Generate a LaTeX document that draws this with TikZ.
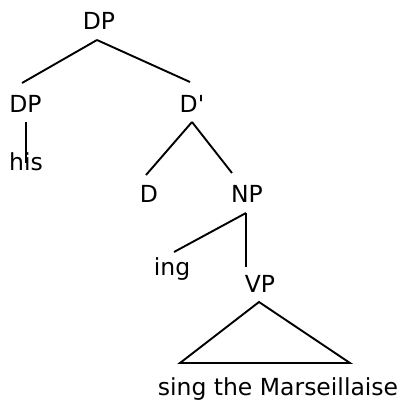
\documentclass[tikz,border=0pt]{standalone}
\usepackage{fontspec}
\setmainfont{DejaVu Sans}
\begin{document}
\begin{tikzpicture}[x=1pt,y=-1pt,
  lbl/.style={inner sep=0pt,anchor=base,font=\fontsize{23.5}{28}\selectfont},
  branch/.style={line width=1.9pt,black}]
\useasboundingbox (0,0) rectangle (405,400);
% labels, placed on their baselines
\node[lbl] (dp)   at (99,29)   {DP};
\node[lbl] (dpl)  at (25.5,112) {DP};
\node[lbl] (his)  at (26,170)  {his};
\node[lbl] (dbar) at (192,112) {D\textquotesingle};
\node[lbl] (d)    at (149,202) {D};
\node[lbl] (np)   at (247,202) {NP};
\node[lbl] (ing)  at (172,275) {ing};
\node[lbl] (vp)   at (260,292) {VP};
\node[lbl] (yield) at (278,395) {sing the Marseillaise};
% branches
\draw[branch] ([xshift=-2pt,yshift=-11pt]dp.base) -- ([xshift=-3.5pt,yshift=29pt]dpl.base);
\draw[branch] ([xshift=-2pt,yshift=-11pt]dp.base) -- ([xshift=-2pt,yshift=30pt]dbar.base);
\draw[branch] ([xshift=0.5pt,yshift=-10pt]dpl.base) -- ([yshift=7pt]his.base);
\draw[branch] ([yshift=-10pt]dbar.base) -- ([xshift=-3pt,yshift=27pt]d.base);
\draw[branch] ([yshift=-10pt]dbar.base) -- ([xshift=-15pt,yshift=29pt]np.base);
\draw[branch] ([xshift=-1pt,yshift=-11pt]np.base) -- ([xshift=2pt,yshift=23pt]ing.base);
\draw[branch] ([xshift=-1pt,yshift=-11pt]np.base) -- ([xshift=-14pt,yshift=25pt]vp.base);
% roof over the unanalysed VP
\draw[branch,line join=miter] ([xshift=-1pt,yshift=-10pt]vp.base)
  -- ([xshift=-98pt,yshift=32pt]yield.base)
  -- ([xshift=72pt,yshift=32pt]yield.base) -- cycle;
\end{tikzpicture}
\end{document}
